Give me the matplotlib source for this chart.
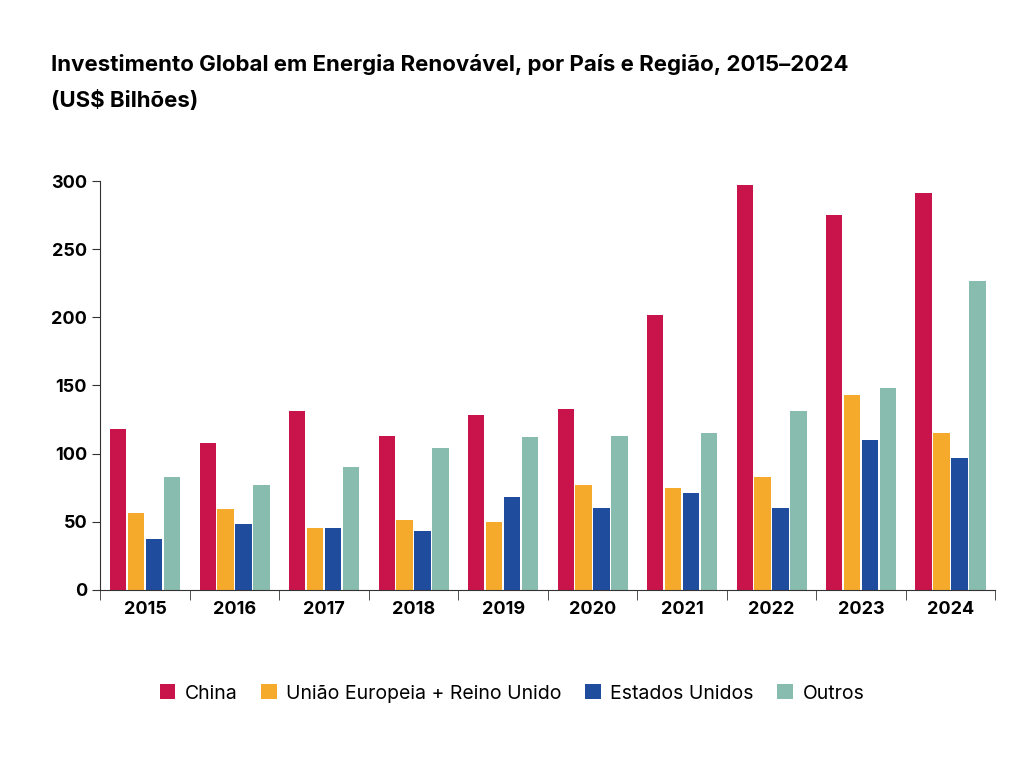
import numpy as np
import matplotlib.pyplot as plt

years = ['2015', '2016', '2017', '2018', '2019', '2020', '2021', '2022', '2023', '2024']
china = [118, 108, 131, 113, 128, 133, 202, 297, 275, 291]
eu_uk = [56, 59, 45, 51, 50, 77, 75, 83, 143, 115]
usa = [37, 48, 45, 43, 68, 60, 71, 60, 110, 97]
outros = [83, 77, 90, 104, 112, 113, 115, 131, 148, 227]

series = [
    ('China', china, '#C8144B'),
    ('União Europeia + Reino Unido', eu_uk, '#F5AA2B'),
    ('Estados Unidos', usa, '#1F4C9C'),
    ('Outros', outros, '#88BCAE'),
]

plt.rcParams['font.family'] = ['Inter', 'DejaVu Sans']

fig = plt.figure(figsize=(10.24, 7.58), dpi=100)
ax = fig.add_axes([0.098, 0.222, 0.874, 0.539])

x = np.arange(len(years))
w = 0.2
for i, (name, vals, color) in enumerate(series):
    ax.bar(x + (i - 1.5) * w, vals, w * 0.92, color=color, label=name)

ax.set_xlim(-0.5, len(years) - 0.5)
ax.set_ylim(0, 300)
ax.set_yticks(range(0, 301, 50))
ax.set_xticks(x)
ax.set_xticklabels(years, fontsize=13, fontweight='bold')
ax.set_xticks(np.arange(-0.5, len(years), 1), minor=True)
ax.tick_params(axis='x', which='major', length=0, pad=8)
ax.tick_params(axis='x', which='minor', length=7, color='#333333')
ax.tick_params(axis='y', length=6, labelsize=13, color='#333333')
for lab in ax.get_yticklabels():
    lab.set_fontweight('bold')
ax.spines['top'].set_visible(False)
ax.spines['right'].set_visible(False)
ax.spines['left'].set_color('#333333')
ax.spines['bottom'].set_color('#333333')

fig.text(0.05, 0.915, 'Investimento Global em Energia Renovável, por País e Região, 2015–2024',
         fontsize=16, fontweight='bold', va='center')
fig.text(0.05, 0.868, '(US$ Bilhões)', fontsize=16, fontweight='bold', va='center')

fig.legend(loc='center', bbox_to_anchor=(0.5, 0.085), ncol=4, frameon=False,
           fontsize=14, handlelength=0.8, handleheight=0.8, columnspacing=1.2, handletextpad=0.5)

fig.savefig('out.png', dpi=100, facecolor='white')
